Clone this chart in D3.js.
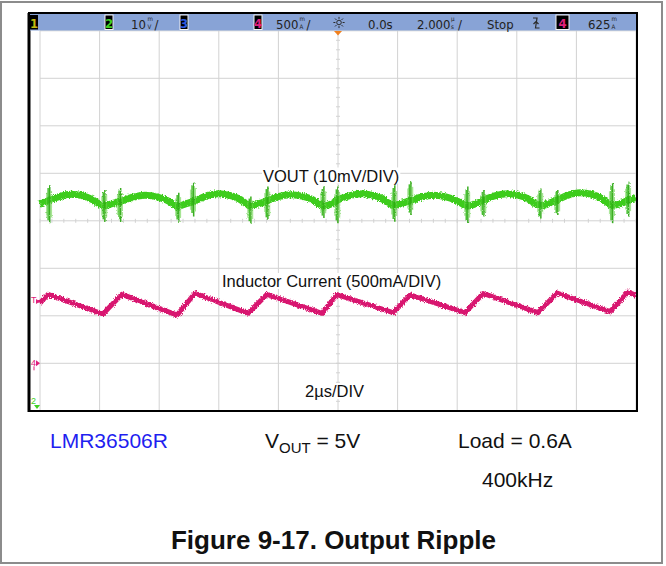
<!DOCTYPE html>
<html>
<head>
<meta charset="utf-8">
<script src="https://cdn.jsdelivr.net/npm/d3@7"></script>
<style>
  html, body { margin: 0; padding: 0; background: #fff; }
  svg { display: block; }
</style>
</head>
<body>
<svg id="fig" width="666" height="566"></svg>
<script>
// ---- Channel 4: inductor current (time in µs, current in A) ----
const currentTime = [-10, -9.73, -7.89, -7.25, -5.40, -4.80, -3.02, -2.38, -0.54, -0.03,
                     1.85, 2.42, 4.26, 4.87, 6.71, 7.35, 9.13, 9.73, 10];
const currentAmps = [0.635, 0.726, 0.519, 0.726, 0.508, 0.737, 0.526, 0.726, 0.526, 0.724,
                     0.533, 0.719, 0.533, 0.735, 0.533, 0.740, 0.543, 0.751, 0.715];

// ---- Channel 2: output ripple (time in µs, mV about screen centre) ----
const voutTime = [-10,
  -9.73, -9.36, -8.96, -8.59, -8.26, -8.05, -7.89, -7.58,
  -7.25, -6.88, -6.48, -6.11, -5.77, -5.57, -5.40, -5.10,
  -4.80, -4.43, -4.03, -3.66, -3.32, -3.12, -2.95, -2.65,
  -2.38, -2.01, -1.58, -1.21, -0.87, -0.67, -0.50, -0.20,
  -0.03, 0.34, 0.77, 1.14, 1.48, 1.68, 1.85, 2.15,
  2.42, 2.79, 3.22, 3.59, 3.93, 4.13, 4.33, 4.63,
  4.87, 5.23, 5.67, 6.04, 6.38, 6.58, 6.78, 7.08,
  7.35, 7.72, 8.12, 8.49, 8.83, 9.03, 9.19, 9.50,
  9.73, 10.0];
const voutMv = [3.5,
  4.2, 5.1, 5.6, 5.3, 4.5, 3.7, 3.1, 3.6,
  4.2, 5.0, 5.4, 5.1, 4.4, 3.7, 3.0, 3.6,
  4.2, 5.2, 5.7, 5.4, 4.6, 3.8, 3.1, 3.6,
  4.2, 5.1, 5.5, 5.2, 4.5, 3.7, 3.1, 3.6,
  4.3, 5.2, 5.7, 5.4, 4.6, 3.8, 3.2, 3.7,
  4.2, 5.0, 5.4, 5.1, 4.4, 3.7, 3.1, 3.6,
  4.3, 5.2, 5.7, 5.4, 4.6, 3.8, 3.2, 3.7,
  4.4, 5.4, 5.9, 5.6, 4.8, 3.9, 3.2, 3.7,
  4.3, 4.9];

// switching-edge spikes on the output (µs, upper mV, lower mV)
const spikeTime = [-9.70, -7.85, -7.32, -5.37, -4.87, -2.95, -2.38, -0.50, -0.03,
                   1.88, 2.42, 4.33, 4.87, 6.78, 7.35, 9.19, 9.73];
const spikeHigh = [7.5, 6.5, 6.9, 5.9, 8.0, 5.1, 7.2, 7.2, 7.2,
                   7.5, 8.2, 7.2, 6.5, 6.8, 6.5, 7.9, 8.2];
const spikeLow  = [-0.5, -0.2, -0.2, -0.2, 0.9, -0.5, 0.2, 0.6, -0.5,
                   -0.2, 1.2, -0.5, 0.9, 0.5, 1.2, -0.5, 0.9];

// scope settings
const timePerDiv = 2;        // µs/div
const ch2PerDiv = 10;        // mV/div
const ch4PerDiv = 0.5;       // A/div
const ch4Offset = -0.5;      // A at bottom graticule line
const triggerLevel = 0.625;  // A

// ---- layout ----
const svg = d3.select("#fig");
const plot = { left: 40, right: 636, top: 30.8, bottom: 410.8 };

const x = d3.scaleLinear().domain([-5 * timePerDiv, 5 * timePerDiv]).range([plot.left, plot.right]);
const y2 = d3.scaleLinear().domain([-4 * ch2PerDiv, 4 * ch2PerDiv]).range([plot.bottom, plot.top]);
const y4 = d3.scaleLinear().domain([ch4Offset, ch4Offset + 8 * ch4PerDiv]).range([plot.bottom, plot.top]);

// fuzz filters for the noisy traces
const defs = svg.append("defs");
function fuzz(id, freq, scale, seed) {
  const f = defs.append("filter").attr("id", id)
    .attr("filterUnits", "userSpaceOnUse")
    .attr("x", 30).attr("y", 30).attr("width", 620).attr("height", 390);
  f.append("feTurbulence").attr("type", "fractalNoise")
    .attr("baseFrequency", freq).attr("numOctaves", 2).attr("seed", seed).attr("result", "n");
  f.append("feDisplacementMap").attr("in", "SourceGraphic").attr("in2", "n")
    .attr("scale", scale).attr("xChannelSelector", "R").attr("yChannelSelector", "G");
}
fuzz("fuzz", "0.9 0.6", 4, 4);
fuzz("fuzzSoft", "0.5 0.9", 2.5, 7);

// outer frame
svg.append("rect").attr("x", 1).attr("y", 2).attr("width", 661).attr("height", 561)
  .attr("fill", "#fff").attr("stroke", "#8c8c8c").attr("stroke-width", 2);

// graticule
const grid = svg.append("g").attr("stroke", "#d2d2d2").attr("stroke-width", 1);
const xTicks = d3.range(-5 * timePerDiv, 5 * timePerDiv + 0.001, timePerDiv);
grid.selectAll("line.v").data(xTicks).join("line")
  .attr("x1", d => x(d)).attr("x2", d => x(d))
  .attr("y1", plot.top).attr("y2", plot.bottom);
const yTicks = d3.range(-4 * ch2PerDiv, 4 * ch2PerDiv + 0.001, ch2PerDiv);
grid.selectAll("line.h").data(yTicks).join("line")
  .attr("x1", plot.left).attr("x2", plot.right)
  .attr("y1", d => y2(d)).attr("y2", d => y2(d));

// minor ticks on the centre axes
const minorX = d3.range(-5 * timePerDiv, 5 * timePerDiv + 0.001, timePerDiv / 5);
grid.selectAll("line.mx").data(minorX).join("line")
  .attr("x1", d => x(d)).attr("x2", d => x(d))
  .attr("y1", y2(0) - 2).attr("y2", y2(0) + 2);
const minorY = d3.range(-4 * ch2PerDiv, 4 * ch2PerDiv + 0.001, ch2PerDiv / 5);
grid.selectAll("line.my").data(minorY).join("line")
  .attr("x1", x(0) - 2).attr("x2", x(0) + 2)
  .attr("y1", d => y2(d)).attr("y2", d => y2(d));

// in-graticule labels with white backing
function label(txt, px, py) {
  const g = svg.append("g");
  const t = g.append("text").attr("x", px).attr("y", py)
    .attr("font-family", "Liberation Sans, Arial, sans-serif")
    .attr("font-size", 16.5).attr("fill", "#111").text(txt);
  const b = t.node().getBBox();
  g.insert("rect", "text").attr("x", b.x - 1).attr("y", b.y + 1)
    .attr("width", b.width + 2).attr("height", b.height - 2).attr("fill", "#fff");
}
label("VOUT (10mV/DIV)", 263, 181.5);
label("Inductor Current (500mA/DIV)", 222, 287);
label("2µs/DIV", 305, 397);

// ---- traces ----
const voutLine = d3.line().x(d => x(d[0])).y(d => y2(d[1])).curve(d3.curveMonotoneX);
svg.append("path").datum(d3.zip(voutTime, voutMv))
  .attr("filter", "url(#fuzz)")
  .attr("d", voutLine).attr("fill", "none")
  .attr("stroke", "#3ccc1c").attr("stroke-width", 7).attr("stroke-linejoin", "round");

const spikes = svg.append("g").attr("filter", "url(#fuzzSoft)");
spikeTime.forEach((t, i) => {
  const hi = spikeHigh[i], lo = spikeLow[i];
  const mid = (hi + lo) / 2, half = (hi - lo) / 2;
  [[-2.2, 0.6, 0.55, "#6ad44e"], [-0.8, 0.85, 0.9, "#32b816"], [0.8, 1, 0.95, "#2faa14"], [2.4, 0.7, 0.6, "#6ad44e"]]
    .forEach(([dx, k, op, c]) => {
      spikes.append("line")
        .attr("x1", x(t) + dx).attr("x2", x(t) + dx)
        .attr("y1", y2(mid + half * k)).attr("y2", y2(mid - half * k))
        .attr("stroke", c).attr("stroke-width", 1.5).attr("opacity", op);
    });
});

const curLine = d3.line().x(d => x(d[0])).y(d => y4(d[1]));
svg.append("path").datum(d3.zip(currentTime, currentAmps))
  .attr("filter", "url(#fuzz)")
  .attr("d", curLine).attr("fill", "none")
  .attr("stroke", "#d8196f").attr("stroke-width", 5).attr("stroke-linejoin", "round");

// ---- screen frame ----
svg.append("rect").attr("x", 29).attr("y", 13).attr("width", 608).attr("height", 398)
  .attr("fill", "none").attr("stroke", "#000").attr("stroke-width", 2);
svg.append("line").attr("x1", 29).attr("x2", 29).attr("y1", 13).attr("y2", 412)
  .attr("stroke", "#000").attr("stroke-width", 3);

// status bar
svg.append("rect").attr("x", 30).attr("y", 14).attr("width", 606).attr("height", 16.5)
  .attr("fill", "#88a3d6");

const hdrFont = "DejaVu Sans Condensed, Liberation Sans Narrow, Liberation Sans, sans-serif";
function chanBox(x0, w, digit, color, outline) {
  svg.append("rect").attr("x", x0).attr("y", 15).attr("width", w).attr("height", 14.5)
    .attr("fill", "#000").attr("stroke", outline ? "#f2f2f2" : "none").attr("stroke-width", 1);
  svg.append("text").attr("x", x0 + w / 2).attr("y", 27.5).attr("text-anchor", "middle")
    .attr("font-family", hdrFont).attr("font-size", 13).attr("font-weight", "bold")
    .attr("fill", color).text(digit);
}
function hdrText(txt, x0) {
  return svg.append("text").attr("x", x0).attr("y", 29)
    .attr("font-family", hdrFont).attr("font-size", 13)
    .attr("fill", "#222").text(txt);
}
// value followed by a small two-line unit glyph and an optional slash, as one text
function reading(value, unitTop, unitBottom, slash, x0, unitDx) {
  const t = svg.append("text").attr("x", x0).attr("y", 29)
    .attr("font-family", hdrFont).attr("font-size", 13).attr("fill", "#222");
  t.append("tspan").text(value);
  t.append("tspan").attr("x", x0 + unitDx).attr("y", 21.3).attr("font-size", 6.2).text(unitTop);
  t.append("tspan").attr("x", x0 + unitDx).attr("y", 29).attr("font-size", 6.2).text(unitBottom);
  if (slash) t.append("tspan").attr("x", x0 + unitDx + 7).attr("y", 29).text("/");
}

chanBox(30, 8, "1", "#c2bb10", false);
chanBox(105, 8, "2", "#3ed021", true);
reading("10", "m", "V", true, 131, 16.5);
chanBox(180, 8, "3", "#2d5be0", true);
chanBox(254, 8, "4", "#e0207a", true);
reading("500", "m", "A", true, 276, 23.5);

// acquisition icon
const sun = svg.append("g").attr("transform", "translate(339,22.5)")
  .attr("stroke", "#2b2b2b").attr("stroke-width", 1).attr("fill", "none");
sun.append("circle").attr("r", 2.3);
d3.range(8).forEach(i => {
  const a = i * Math.PI / 4;
  sun.append("line").attr("x1", Math.cos(a) * 3.6).attr("y1", Math.sin(a) * 3.6)
    .attr("x2", Math.cos(a) * 5.6).attr("y2", Math.sin(a) * 5.6);
});
// trigger position marker
svg.append("path").attr("d", `M${x(0) - 4},31 L${x(0) + 4},31 L${x(0)},35.5 Z`).attr("fill", "#f0801e");

hdrText("0.0s", 368);
reading("2.000", "µ", "s", true, 417, 34);
hdrText("Stop", 487);
// trigger edge symbol
svg.append("path").attr("d", "M533,18 L537,18 L535.5,28 L539.5,28 M533.5,24 L536,21.5 L538.5,24")
  .attr("stroke", "#2b2b2b").attr("stroke-width", 1.2).attr("fill", "none");
chanBox(556, 13, "4", "#e0207a", true);
reading("625", "m", "A", false, 588, 23.5);

// ---- channel markers at the left edge ----
const mk = svg.append("g").attr("font-family", "Liberation Sans, Arial, sans-serif").attr("font-size", 9);
mk.append("text").attr("x", 31).attr("y", y4(triggerLevel) - 1).attr("fill", "#e0207a").text("T");
mk.append("path").attr("d", `M36,${y4(triggerLevel) - 5} L40,${y4(triggerLevel) - 2.5} L36,${y4(triggerLevel)} Z`)
  .attr("fill", "#e0207a");
mk.append("text").attr("x", 31).attr("y", y4(0) + 3).attr("fill", "#e0207a").text("4");
mk.append("path").attr("d", `M36,${y4(0) - 3} L40,${y4(0)} L36,${y4(0) + 3} Z`).attr("fill", "#e0207a");
mk.append("line").attr("x1", 34).attr("x2", 34).attr("y1", y4(0) + 3).attr("y2", y4(0) + 7)
  .attr("stroke", "#e0207a").attr("stroke-width", 1);
mk.append("text").attr("x", 31).attr("y", 404).attr("fill", "#3ed021").text("2");
mk.append("path").attr("d", "M34,405 L40,405 L37,409 Z").attr("fill", "#3ed021");

// ---- caption ----
const cap = svg.append("g").attr("font-family", "Liberation Sans, Arial, sans-serif");
cap.append("text").attr("x", 50).attr("y", 448).attr("font-size", 21)
  .attr("fill", "#1f1ff0").text("LMR36506R");
const vt = cap.append("text").attr("x", 265).attr("y", 448).attr("font-size", 21).attr("fill", "#111");
vt.append("tspan").text("V");
vt.append("tspan").attr("font-size", 15).attr("dy", 5).text("OUT");
vt.append("tspan").attr("dy", -5).text(" = 5V");
cap.append("text").attr("x", 458).attr("y", 448).attr("font-size", 21).attr("fill", "#111")
  .text("Load = 0.6A");
cap.append("text").attr("x", 482).attr("y", 487).attr("font-size", 21).attr("fill", "#111")
  .text("400kHz");
cap.append("text").attr("x", 333.5).attr("y", 549).attr("text-anchor", "middle")
  .attr("font-size", 26).attr("font-weight", "bold").attr("fill", "#111")
  .text("Figure 9-17. Output Ripple");
</script>
</body>
</html>
